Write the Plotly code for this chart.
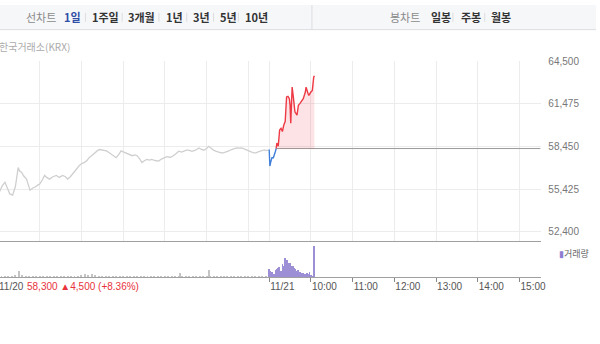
import plotly.graph_objects as go

# ---------------- data ----------------
# 11/20 session: minutes after 09:00, price
t20 = [0, 3, 6, 10, 13, 17, 21, 25, 29, 31, 34, 37, 41, 44, 46, 50, 53, 57, 60, 64,
       67, 70, 74, 79, 84, 88, 93, 97, 100, 104, 107, 112, 117, 121, 124, 128, 131, 135, 139, 143,
       146, 150, 156, 160, 163, 167, 170, 174, 177, 181, 184, 189, 193, 197, 200, 204, 207, 211, 214, 218,
       221, 226, 231, 235, 239, 243, 247, 250, 255, 260, 264, 267, 271, 274, 279, 284, 289, 292, 296, 300,
       303, 307, 310, 314, 317, 321, 324, 328, 331, 336, 340, 343, 347, 350, 354, 357, 361, 364, 368, 371,
       375, 379, 383, 386, 389]
p20 = [54990, 55300, 55650, 55900, 55500, 55080, 54990, 55600, 56950, 56700, 56600, 56350, 56130, 55700, 55340, 55500, 55550, 55700, 55780, 56100,
       56390, 56250, 56130, 56300, 56390, 56250, 56390, 56300, 56130, 56300, 56480, 56800, 57090, 57250, 57300, 57450, 57650, 57800, 57990, 58150,
       58230, 58200, 58130, 58000, 57880, 57750, 57650, 57900, 58130, 58050, 57990, 57900, 57790, 57850, 57790, 57550, 57300, 57450, 57530, 57480,
       57530, 57450, 57410, 57550, 57650, 57720, 57680, 57720, 57900, 58110, 58050, 58110, 58180, 58180, 58100, 58180, 58340, 58250, 58180, 58300,
       58460, 58300, 58180, 58100, 58040, 58000, 57990, 58050, 58110, 58230, 58300, 58340, 58330, 58340, 58280, 58230, 58120, 58060, 57990, 57990,
       58080, 58150, 58200, 58150, 58180]

# 11/21 session: below reference (blue) then above reference (red)
t21_down = [0, 1, 2, 4, 6, 8, 9, 10]
p21_down = [58230, 57060, 57300, 57650, 57650, 57880, 58110, 58300]
t21_up = [10, 11, 13, 14, 15, 17, 19, 21, 23, 25, 27, 29, 30, 31, 33, 35, 37, 40, 42, 44,
          47, 49, 52, 53, 56, 57, 60, 62, 64, 65]
p21_up = [58300, 58690, 58460, 58930, 59620, 59740, 59510, 59970, 60210, 61960, 62000, 61840, 61400, 60090, 62660, 61840, 60910, 60670, 61370, 61490,
          61720, 61840, 62310, 62660, 62190, 62070, 62310, 62420, 63360, 63470]
ref_price = 58300

# volume (thousand shares)
tv20 = [0, 5, 10, 15, 20, 25, 30, 35, 40, 45, 50, 55, 60, 65, 70, 75, 80, 85, 90, 95,
        100, 105, 110, 115, 120, 125, 130, 135, 140, 145, 150, 155, 160, 165, 170, 175, 180, 185, 190, 195,
        200, 205, 210, 215, 220, 225, 230, 235, 240, 245, 250, 255, 260, 262, 265, 270, 275, 280, 285, 290,
        295, 300, 303, 305, 310, 315, 320, 325, 330, 335, 340, 345, 350, 355, 360, 365, 370, 375, 380, 385]
v20 = [2, 2, 1.5, 1, 1.5, 3, 7, 3, 1.5, 1, 1, 1.5, 1, 1, 1.5, 1, 1, 1, 1.5, 1,
       1, 1, 1, 2, 3, 3.5, 2.5, 4, 3, 2, 1, 2, 1.5, 1, 1, 1, 1, 1, 1.5, 1,
       1, 1, 1, 1, 1, 1, 1, 1, 2, 1, 1, 1, 1, 5, 1, 1.5, 1, 1, 1.5, 1,
       1.5, 2, 8, 2, 1, 1.5, 1, 1, 1, 1, 1, 1, 1, 1, 1, 1, 1, 1.5, 1, 1.5]
v21 = [9, 7, 6, 5, 6, 4, 3, 4, 3, 5, 8, 9, 7, 10, 11, 9, 6, 7, 5, 14,
       11, 12, 9, 20, 16, 13, 18, 15, 10, 8, 15, 12, 8, 7, 12, 9, 10, 8, 9, 7,
       6, 8, 7, 6, 5, 6, 4, 5, 4, 5, 4, 3, 4, 3, 5, 4, 3, 4, 6, 3,
       2, 3, 2, 2, 32]

price_ticks = [52400, 55425, 58450, 61475, 64500]
time_ticks = ["11/21", "10:00", "11:00", "12:00", "13:00", "14:00", "15:00"]

DAY = 390  # minutes per session (09:00-15:30)
day2_ticks = [0, 60, 120, 180, 240, 300, 360]

# ---------------- figure ----------------
W, H = 600, 344
def py(y):  # pixel y -> paper
    return 1 - y / H

x21_down = [DAY + t for t in t21_down]
x21_up = [DAY + t for t in t21_up]

fig = go.Figure()
fig.add_trace(go.Scatter(x=t20, y=p20, mode="lines", line=dict(color="#cfcfcf", width=1.3),
                         hoverinfo="skip", xaxis="x", yaxis="y"))
fig.add_trace(go.Scatter(x=[x21_up[0], 2 * DAY], y=[ref_price, ref_price], mode="lines",
                         line=dict(color="#9a9a9a", width=1), hoverinfo="skip", xaxis="x", yaxis="y"))
fig.add_trace(go.Scatter(x=x21_up, y=[ref_price] * len(x21_up), mode="lines",
                         line=dict(width=0, color="rgba(0,0,0,0)"), hoverinfo="skip", xaxis="x", yaxis="y"))
fig.add_trace(go.Scatter(x=x21_up, y=p21_up, mode="lines", fill="tonexty",
                         fillcolor="rgba(240,60,70,0.14)", line=dict(color="#ee3a45", width=1.4),
                         hoverinfo="skip", xaxis="x", yaxis="y"))
fig.add_trace(go.Scatter(x=x21_down, y=p21_down, mode="lines", line=dict(color="#3f7fd9", width=1.4),
                         hoverinfo="skip", xaxis="x", yaxis="y"))
fig.add_trace(go.Bar(x=tv20, y=v20, width=1.4, marker=dict(color="#c4c4c4", line=dict(width=0)),
                     hoverinfo="skip", xaxis="x2", yaxis="y2"))
fig.add_trace(go.Bar(x=[DAY + i for i in range(len(v21))], y=v21, width=0.9,
                     marker=dict(color="#9d8fd6", line=dict(width=0)),
                     hoverinfo="skip", xaxis="x2", yaxis="y2"))

x0 = 2 / 0.7
x1 = 547 / 0.7
xdom = [0, 545 / W]
grid_x = [60, 120, 180, 240, 300, 360] + [DAY + t for t in day2_ticks]

fig.update_layout(
    width=W, height=H, margin=dict(l=0, r=0, t=0, b=0),
    paper_bgcolor="white", plot_bgcolor="white", showlegend=False, bargap=0,
    font=dict(family="Liberation Sans, Arial, sans-serif", size=10, color="#666"),
    xaxis=dict(domain=xdom, range=[x0, x1], anchor="y", tickvals=grid_x, showticklabels=False,
               showgrid=True, gridcolor="#ececec", gridwidth=1, zeroline=False,
               showline=True, linecolor="#a0a0a0", linewidth=1, ticks=""),
    yaxis=dict(domain=[py(239), py(57)], range=[52400 - 9 * 12100 / 173, 64500], anchor="x",
               side="right", tickvals=price_ticks, tickformat=",d", showgrid=True,
               gridcolor="#ececec", zeroline=False, ticks="", ticklabelstandoff=6,
               tickfont=dict(size=10, color="#777")),
    xaxis2=dict(domain=xdom, range=[x0, x1], anchor="y2",
                tickvals=[DAY + t for t in day2_ticks], ticktext=time_ticks,
                ticklabelposition="outside right", ticks="outside", ticklen=4, tickcolor="#888",
                showgrid=False, zeroline=False, showline=True, linecolor="#a0a0a0", linewidth=1,
                tickfont=dict(size=10, color="#555")),
    yaxis2=dict(domain=[py(276), py(240)], range=[0, 36], anchor="x2", showgrid=False,
                showticklabels=False, zeroline=False, ticks=""),
)

# header bar
fig.add_shape(type="rect", xref="paper", yref="paper", x0=0, x1=1, y0=py(25), y1=1,
              fillcolor="#f6f7f9", line=dict(width=0), layer="below")
fig.add_shape(type="line", xref="paper", yref="paper", x0=0, x1=1, y0=py(25), y1=py(25),
              line=dict(color="#dcdde0", width=1))
fig.add_shape(type="line", xref="paper", yref="paper", x0=314 / W, x1=314 / W, y0=py(25), y1=1,
              line=dict(color="#dcdde0", width=1))

KR = "Noto Sans CJK KR"
def txt(x, y, s, color, size=10, bold=False, family=KR):
    if bold:
        s = "<b>" + s + "</b>"
    fig.add_annotation(x=x / W, y=py(y), xref="paper", yref="paper", text=s, showarrow=False,
                       xanchor="left", yanchor="middle", font=dict(family=family, size=size, color=color))

HY = 12.5
txt(24, HY, "선차트", "#8a8a8a", 11)
txt(62, HY, "1일", "#2f4ea6", 11, bold=True)
for xs, s in [(91, "1주일"), (127, "3개월"), (165, "1년"), (192, "3년"), (219, "5년"), (245, "10년")]:
    txt(xs, HY, s, "#333", 11, bold=True)
txt(391, HY, "봉차트", "#8a8a8a", 11)
for xs, s in [(432, "일봉"), (462, "주봉"), (492, "월봉")]:
    txt(xs, HY, s, "#333", 11, bold=True)
for xs in [86, 123, 160, 188, 215, 240, 456, 488]:
    fig.add_shape(type="line", xref="paper", yref="paper", x0=xs / W, x1=xs / W, y0=py(8), y1=py(17),
                  line=dict(color="#dddddd", width=1))

txt(-3, 42.5, "한국거래소(KRX)", "#aaaaaa", 10)
txt(-3, 286, "11/20", "#555", 10, family="Liberation Sans, Arial")
txt(25, 286, "58,300 ▲4,500 (+8.36%)", "#e8323c", 10, family="Liberation Sans, Arial")
txt(561, 252, "<span style='color:#8e7fd0'>▮</span>거래량", "#666", 9)

fig.write_html("out.html")
